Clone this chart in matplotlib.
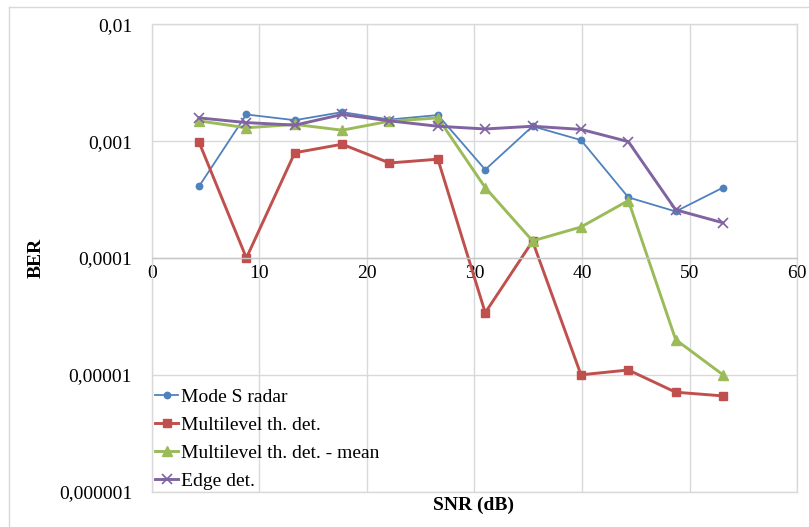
import matplotlib
matplotlib.use("Agg")
import matplotlib.pyplot as plt
from matplotlib.ticker import FixedLocator, FuncFormatter, NullLocator
from matplotlib.lines import Line2D

# SNR sample points (dB)
snr = [4.4, 8.8, 13.3, 17.7, 22.1, 26.6, 31.0, 35.4, 39.9, 44.3, 48.7, 53.1]

# Bit error rate per detector
ber_mode_s = [4.1e-4, 1.69e-3, 1.51e-3, 1.77e-3, 1.53e-3, 1.67e-3,
              5.7e-4, 1.34e-3, 1.02e-3, 3.3e-4, 2.5e-4, 4.0e-4]
ber_multilevel = [9.8e-4, 1.0e-4, 7.95e-4, 9.4e-4, 6.5e-4, 7.0e-4,
                  3.4e-5, 1.39e-4, 1.0e-5, 1.1e-5, 7.1e-6, 6.6e-6]
ber_multilevel_mean = [1.49e-3, 1.30e-3, 1.39e-3, 1.24e-3, 1.48e-3, 1.58e-3,
                       4.0e-4, 1.40e-4, 1.84e-4, 3.1e-4, 2.0e-5, 1.0e-5]
ber_edge = [1.58e-3, 1.44e-3, 1.37e-3, 1.69e-3, 1.49e-3, 1.34e-3,
            1.27e-3, 1.34e-3, 1.26e-3, 9.9e-4, 2.58e-4, 2.0e-4]

series_labels = ["Mode S radar", "Multilevel th. det.",
                 "Multilevel th. det. - mean", "Edge det."]

x_ticks = [0, 10, 20, 30, 40, 50, 60]
y_ticks = [1e-6, 1e-5, 1e-4, 1e-3, 1e-2]
y_tick_labels = ["0,000001", "0,00001", "0,0001", "0,001", "0,01"]

plt.rcParams["font.family"] = ["Liberation Serif", "DejaVu Serif"]
FS = 14
GRID = "#D9D9D9"

fig = plt.figure(figsize=(8.09, 5.27), dpi=100)
ax = fig.add_axes([0.1875, 0.0670, 0.798, 0.887])

ax.set_yscale("log")
ax.set_xlim(0, 60)
ax.set_ylim(1e-6, 1e-2)

styles = [
    dict(color="#4F81BD", marker="o", markersize=4.6, linewidth=1.3),
    dict(color="#C0504D", marker="s", markersize=6.0, linewidth=2.1),
    dict(color="#9BBB59", marker="^", markersize=6.5, linewidth=2.1),
    dict(color="#8064A2", marker="x", markersize=6.5, linewidth=2.1,
         markeredgewidth=1.2),
]
for data, label, st in zip([ber_mode_s, ber_multilevel, ber_multilevel_mean, ber_edge],
                           series_labels, styles):
    ax.plot(snr, data, label=label, **st)

# grid
ax.xaxis.set_major_locator(FixedLocator(x_ticks))
ax.yaxis.set_major_locator(FixedLocator(y_ticks))
ax.yaxis.set_minor_locator(NullLocator())
ax.yaxis.set_major_formatter(FuncFormatter(
    lambda v, p: y_tick_labels[y_ticks.index(v)] if v in y_ticks else ""))
ax.grid(True, which="major", color=GRID, linewidth=1.0)
ax.set_axisbelow(True)

for side in ["left", "right", "top"]:
    ax.spines[side].set_color(GRID)
    ax.spines[side].set_linewidth(1.0)
ax.spines["bottom"].set_position(("data", 1e-4))
ax.spines["bottom"].set_color("#C8C8C8")
ax.spines["bottom"].set_linewidth(1.0)
ax.axhline(1e-6, color=GRID, linewidth=1.0, clip_on=False, zorder=0.5)

ax.tick_params(axis="x", length=0, pad=5, labelsize=FS)
ax.tick_params(axis="y", length=0, pad=14, labelsize=FS)

fig.text(0.5855, 1 - 505 / 527, "SNR (dB)", ha="center", va="center",
         fontsize=FS, fontweight="bold")
fig.text(36 / 809, 1 - 258 / 527, "BER", ha="center", va="center",
         rotation=90, fontsize=FS, fontweight="bold")

leg = ax.legend(loc="lower left", bbox_to_anchor=(0.005, 0.004), frameon=False,
                fontsize=FS, handlelength=1.2, handletextpad=0.15,
                labelspacing=0.53, borderpad=0, borderaxespad=0)

# outer chart border (top and left edges)
fig.add_artist(Line2D([9 / 809, 1], [1 - 7 / 527] * 2, color=GRID, linewidth=1.0,
                      transform=fig.transFigure))
fig.add_artist(Line2D([9 / 809] * 2, [0, 1 - 7 / 527], color=GRID, linewidth=1.0,
                      transform=fig.transFigure))

fig.savefig("out.png", dpi=100)
